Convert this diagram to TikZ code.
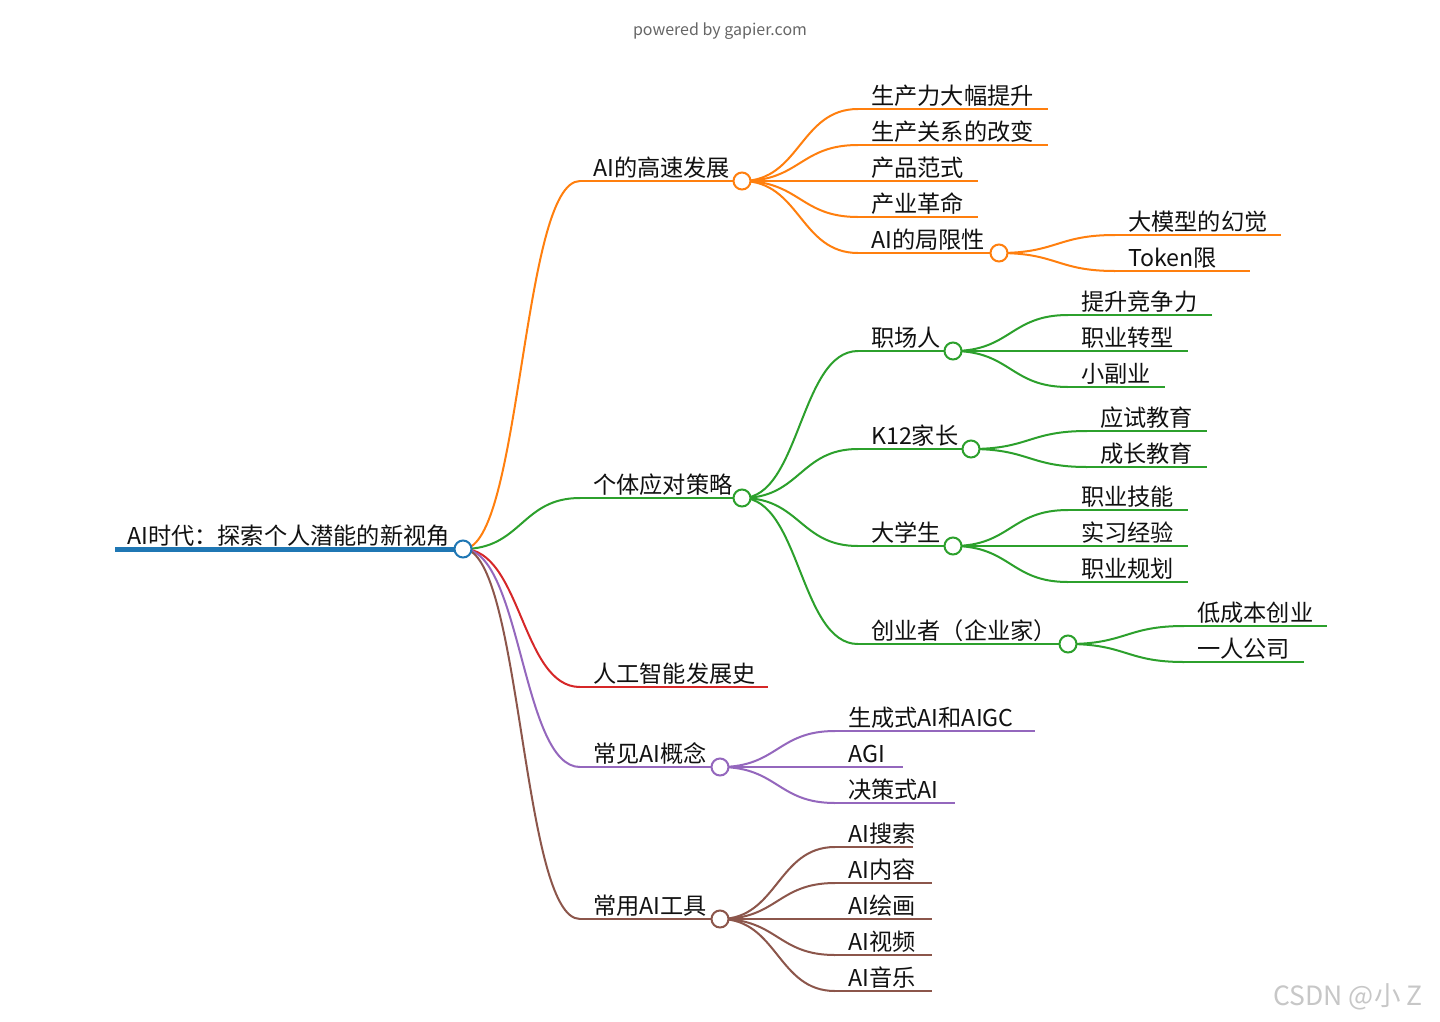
\documentclass[tikz,border=0pt]{standalone}
\usepackage{fontspec}
\setmainfont{Noto Sans CJK SC}
\usetikzlibrary{calc}
\definecolor{cblue}{HTML}{1F77B4}
\definecolor{corange}{HTML}{FF7F0E}
\definecolor{cgreen}{HTML}{2CA02C}
\definecolor{cred}{HTML}{D62728}
\definecolor{cpurple}{HTML}{9467BD}
\definecolor{cbrown}{HTML}{8C564B}
\definecolor{ctext}{HTML}{111111}
\tikzset{
  lnk/.style={line width=2pt},
  uline/.style={line width=2pt},
  dot/.style={circle, draw=#1, fill=white, line width=2pt, minimum size=17pt, inner sep=0pt},
  lbl/.style={anchor=base west, inner sep=0pt, text=ctext, font=\fontsize{23.2}{25}\selectfont},
}
\newcommand\mmlink[3]{\draw[lnk,#3] let \p1=(#1), \p2=(#2) in (\p1) .. controls ({(\x1+\x2)/2},\y1) and ({(\x1+\x2)/2},\y2) .. (\p2);}
\newcommand\mmitem[6]{%
  \coordinate (#1-s) at (#2,#4);
  \coordinate (#1) at (#3,#4);
  \draw[uline,#5] (#1-s) -- (#1);
  \node[lbl] (#1-t) at ($(#1-s)+(13,-4.5)$) {#6};}
\begin{document}
\begin{tikzpicture}[x=1pt,y=-1pt]
\fill[white] (0,0) rectangle (1440,1021);
\useasboundingbox (0,0) rectangle (1440,1021);
\node[anchor=base, text=black!60, font=\fontsize{16}{18}\selectfont] (credit) at (720,35) {powered by gapier.com};
\node[anchor=base east, text=black!22, font=\fontsize{26.5}{28}\selectfont] (wm) at (1426,1005) {CSDN @小 Z};
% root
\coordinate (root-s) at (115,549);
\coordinate (root) at (463,549);
\draw[line width=5pt,cblue] (root-s) -- (root);
\node[lbl] (root-t) at (127,544.5) {AI时代：探索个人潜能的新视角};
% level 1
\mmitem{o1}{580}{742}{181}{corange}{AI的高速发展}
\mmitem{g1}{580}{742}{498}{cgreen}{个体应对策略}
\mmitem{r1}{580}{768}{687}{cred}{人工智能发展史}
\mmitem{p1}{580}{720}{767}{cpurple}{常见AI概念}
\mmitem{b1}{580}{720}{919}{cbrown}{常用AI工具}
\mmlink{root}{o1-s}{corange}
\mmlink{root}{g1-s}{cgreen}
\mmlink{root}{r1-s}{cred}
\mmlink{root}{p1-s}{cpurple}
\mmlink{root}{b1-s}{cbrown}
% orange
\mmitem{o11}{858}{1048}{109}{corange}{生产力大幅提升}
\mmitem{o12}{858}{1048}{145}{corange}{生产关系的改变}
\mmitem{o13}{858}{978}{181}{corange}{产品范式}
\mmitem{o14}{858}{978}{217}{corange}{产业革命}
\mmitem{o15}{858}{999}{253}{corange}{AI的局限性}
\mmitem{o151}{1115}{1281}{235}{corange}{大模型的幻觉}
\mmitem{o152}{1115}{1250}{271}{corange}{Token限}
\foreach \c in {o11,o12,o13,o14,o15}{\mmlink{o1}{\c-s}{corange}}
\foreach \c in {o151,o152}{\mmlink{o15}{\c-s}{corange}}
% green
\mmitem{g11}{858}{953}{351}{cgreen}{职场人}
\mmitem{g111}{1068}{1212}{315}{cgreen}{提升竞争力}
\mmitem{g112}{1068}{1188}{351}{cgreen}{职业转型}
\mmitem{g113}{1068}{1165}{387}{cgreen}{小副业}
\mmitem{g12}{858}{971}{449}{cgreen}{K12家长}
\mmitem{g121}{1087}{1207}{431}{cgreen}{应试教育}
\mmitem{g122}{1087}{1207}{467}{cgreen}{成长教育}
\mmitem{g13}{858}{953}{546}{cgreen}{大学生}
\mmitem{g131}{1068}{1188}{510}{cgreen}{职业技能}
\mmitem{g132}{1068}{1188}{546}{cgreen}{实习经验}
\mmitem{g133}{1068}{1188}{582}{cgreen}{职业规划}
\mmitem{g14}{858}{1068}{644}{cgreen}{创业者（企业家）}
\mmitem{g141}{1184}{1327}{626}{cgreen}{低成本创业}
\mmitem{g142}{1184}{1304}{662}{cgreen}{一人公司}
\foreach \c in {g11,g12,g13,g14}{\mmlink{g1}{\c-s}{cgreen}}
\foreach \c in {g111,g112,g113}{\mmlink{g11}{\c-s}{cgreen}}
\foreach \c in {g121,g122}{\mmlink{g12}{\c-s}{cgreen}}
\foreach \c in {g131,g132,g133}{\mmlink{g13}{\c-s}{cgreen}}
\foreach \c in {g141,g142}{\mmlink{g14}{\c-s}{cgreen}}
% purple
\mmitem{p11}{835}{1035}{731}{cpurple}{生成式AI和AIGC}
\mmitem{p12}{835}{903}{767}{cpurple}{AGI}
\mmitem{p13}{835}{955}{803}{cpurple}{决策式AI}
\foreach \c in {p11,p12,p13}{\mmlink{p1}{\c-s}{cpurple}}
% brown
\mmitem{b11}{835}{913}{847}{cbrown}{AI搜索}
\mmitem{b12}{835}{932}{883}{cbrown}{AI内容}
\mmitem{b13}{835}{932}{919}{cbrown}{AI绘画}
\mmitem{b14}{835}{932}{955}{cbrown}{AI视频}
\mmitem{b15}{835}{932}{991}{cbrown}{AI音乐}
\foreach \c in {b11,b12,b13,b14,b15}{\mmlink{b1}{\c-s}{cbrown}}
% circles
\node[dot=cblue] (root-c) at (root) {};
\node[dot=corange] (o1-c) at (o1) {};
\node[dot=corange] (o15-c) at (o15) {};
\node[dot=cgreen] (g1-c) at (g1) {};
\node[dot=cgreen] (g11-c) at (g11) {};
\node[dot=cgreen] (g12-c) at (g12) {};
\node[dot=cgreen] (g13-c) at (g13) {};
\node[dot=cgreen] (g14-c) at (g14) {};
\node[dot=cpurple] (p1-c) at (p1) {};
\node[dot=cbrown] (b1-c) at (b1) {};
\end{tikzpicture}
\end{document}
